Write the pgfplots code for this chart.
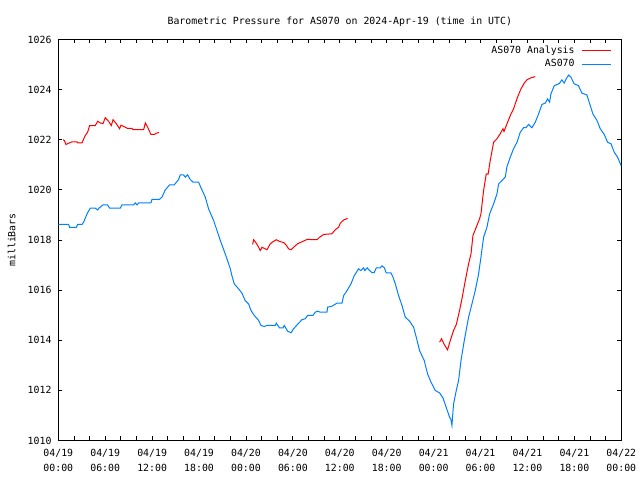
\documentclass[border=0pt]{standalone}
\usepackage{fontspec}
\setmainfont{DejaVu Sans Mono}
\usepackage{pgfplots}
\pgfplotsset{compat=1.18}
\definecolor{anared}{RGB}{255,0,0}
\definecolor{obsblue}{RGB}{0,128,255}
\newcommand{\gfont}{\fontsize{9.9}{14.7}\selectfont}
\begin{document}
\begin{tikzpicture}
\path[use as bounding box] (0,0) rectangle (640bp,480bp);
\begin{axis}[
  at={(58.3bp,39.5bp)}, anchor=south west,
  scale only axis, width=563bp, height=401bp,
  xmin=0, xmax=72, ymin=1010, ymax=1026,
  axis line style={line width=0.8bp},
  tick style={line width=0.8bp, black},
  major tick length=4bp, minor tick length=4bp,
  xtick={0,6,...,72},
  minor x tick num=2,
  xticklabels={{04/19\\00:00},{04/19\\06:00},{04/19\\12:00},{04/19\\18:00},{04/20\\00:00},{04/20\\06:00},{04/20\\12:00},{04/20\\18:00},{04/21\\00:00},{04/21\\06:00},{04/21\\12:00},{04/21\\18:00},{04/22\\00:00}},
  xticklabel style={font=\gfont, inner sep=0pt, yshift=-8.6bp, align=center},
  ytick={1010,1012,...,1026},
  yticklabels={1010,1012,1014,1016,1018,1020,1022,1024,1026},
  yticklabel style={font=\gfont, inner sep=0pt, xshift=-6.6bp},
  title={Barometric Pressure for AS070 on 2024-Apr-19 (time in UTC)},
  title style={font=\gfont, at={(0.5,1)}, anchor=base, yshift=9.5bp, inner sep=0pt},
  ylabel={milliBars},
  every axis y label/.style={at={(rel axis cs:0,0.5)}, anchor=center, rotate=90, yshift=46.6bp, font=\gfont, inner sep=0pt},
  legend plot pos=right,
  legend cell align=right,
  legend image code/.code={\draw[#1] (0bp,0bp) -- (29bp,0bp);},
  legend style={draw=none, fill=none, at={(rel axis cs:1,1)}, anchor=north east,
    xshift=-9.7bp, yshift=-7bp, inner sep=0pt, outer sep=0pt, font=\gfont,
    row sep=4.2bp, column sep=0pt,
    /tikz/every odd column/.append style={column sep=7bp},
    nodes={inner sep=0pt, text height=7bp, text depth=2bp}},
]
\addplot[anared, line width=1bp] coordinates {
(0.6,1022.0) (0.77,1021.97) (0.98,1021.81) (1.32,1021.86) (1.75,1021.92) (2.39,1021.92) (2.5,1021.88) (3.03,1021.88)
(3.45,1022.17) (3.75,1022.30) (4.0,1022.56) (4.73,1022.56) (5.03,1022.74) (5.37,1022.67) (5.71,1022.64)
(6.01,1022.88) (6.44,1022.73) (6.78,1022.57) (7.0,1022.80) (7.42,1022.64) (7.84,1022.44) (8.01,1022.58)
(8.44,1022.52) (8.87,1022.45) (9.42,1022.45) (9.55,1022.40) (10.91,1022.40) (11.13,1022.67) (11.43,1022.50)
(11.85,1022.21) (12.28,1022.21) (12.53,1022.26) (12.87,1022.29)
};
\addlegendentry{AS070 Analysis}
\addplot[obsblue, line width=1bp] coordinates {
(0,1018.62) (1.32,1018.62) (1.45,1018.50) (2.3,1018.50) (2.47,1018.62) (3.03,1018.62) (3.24,1018.71)
(3.67,1019.04) (4.09,1019.27) (4.73,1019.27) (5.03,1019.20) (5.2,1019.27) (5.71,1019.40) (6.3,1019.40)
(6.56,1019.27) (7.93,1019.27) (8.14,1019.40) (9.63,1019.40) (9.85,1019.48) (10.06,1019.40) (10.27,1019.48)
(11.85,1019.48) (11.98,1019.62) (12.92,1019.62) (13.26,1019.71) (13.68,1020.0) (14.23,1020.20) (14.83,1020.20)
(15.38,1020.41) (15.6,1020.60) (16.02,1020.60) (16.24,1020.51) (16.53,1020.60) (16.88,1020.41) (17.22,1020.31)
(17.94,1020.31) (18.25,1020.08) (18.8,1019.71) (19.22,1019.24) (19.86,1018.78) (20.29,1018.38) (20.72,1017.98)
(21.4,1017.4) (22.0,1016.85) (22.2,1016.58) (22.5,1016.25) (23.06,1016.05) (23.49,1015.88) (23.9,1015.58)
(24.34,1015.45) (24.64,1015.19) (25.06,1014.99) (25.62,1014.79) (25.92,1014.59) (26.34,1014.55) (26.69,1014.59)
(27.75,1014.59) (27.88,1014.68) (28.3,1014.49) (28.73,1014.49) (28.9,1014.59) (29.33,1014.36) (29.76,1014.30)
(30.1,1014.46) (30.73,1014.68) (31.16,1014.82) (31.59,1014.86) (31.88,1014.99) (32.57,1014.99) (32.86,1015.12)
(33.16,1015.16) (33.5,1015.12) (34.36,1015.12) (34.44,1015.32) (35.0,1015.36) (35.64,1015.48) (36.28,1015.48)
(36.49,1015.78) (36.92,1015.98) (37.43,1016.25) (37.85,1016.58) (38.4,1016.85) (38.7,1016.78) (39.04,1016.89)
(39.2,1016.78) (39.5,1016.89) (39.75,1016.80) (40.1,1016.70) (40.4,1016.70) (40.67,1016.89) (41.18,1016.89)
(41.39,1016.97) (41.7,1016.89) (41.94,1016.69) (42.54,1016.69) (42.8,1016.52) (43.1,1016.25) (43.52,1015.78)
(43.95,1015.39) (44.37,1014.92) (44.93,1014.76) (45.44,1014.52) (45.78,1014.12) (46.2,1013.59) (46.8,1013.19)
(47.22,1012.66) (47.66,1012.33) (48.2,1012.0) (48.76,1011.90) (49.19,1011.70) (49.6,1011.33) (50.04,1010.93)
(50.2,1010.85) (50.34,1010.60) (50.55,1011.46) (50.9,1012.0) (51.19,1012.39) (51.5,1013.19) (51.92,1013.99)
(52.47,1014.92) (52.9,1015.45) (53.32,1015.98) (53.75,1016.65) (54.05,1017.31) (54.39,1018.11) (54.82,1018.51)
(55.16,1019.04) (55.67,1019.44) (56.1,1019.84) (56.31,1020.24) (56.74,1020.37) (57.16,1020.51) (57.38,1020.93)
(57.8,1021.30) (58.22,1021.64) (58.66,1021.90) (59.08,1022.30) (59.5,1022.48) (59.8,1022.48) (60.14,1022.61)
(60.57,1022.48) (61.0,1022.70) (61.42,1023.03) (61.85,1023.41) (62.28,1023.46) (62.57,1023.63) (62.83,1023.50)
(63.0,1023.83) (63.43,1024.16) (63.77,1024.20) (64.1,1024.25) (64.4,1024.39) (64.7,1024.26) (64.95,1024.43)
(65.26,1024.58) (65.55,1024.50) (65.98,1024.23) (66.52,1024.16) (66.96,1023.86) (67.6,1023.79) (67.82,1023.57)
(68.37,1023.03) (68.89,1022.77) (69.31,1022.44) (69.82,1022.21) (70.25,1021.90) (70.68,1021.84) (71.1,1021.50)
(71.53,1021.30) (72,1020.95)
};
\addlegendentry{AS070}
\addplot[anared, line width=1bp, forget plot] coordinates {
(24.85,1017.82) (24.98,1018.01) (25.32,1017.87) (25.62,1017.71) (25.83,1017.58) (26.05,1017.71) (26.69,1017.61)
(27.11,1017.85) (27.45,1017.93) (27.88,1018.01) (28.3,1017.94) (28.81,1017.90) (29.16,1017.79) (29.45,1017.65)
(29.76,1017.61) (30.1,1017.71) (30.6,1017.85) (31.16,1017.93) (31.88,1018.03) (32.44,1018.01) (33.08,1018.01)
(33.41,1018.11) (33.93,1018.22) (35.0,1018.25) (35.42,1018.41) (35.85,1018.51) (36.06,1018.67) (36.49,1018.80)
(37.0,1018.86)
};
\addplot[anared, line width=1bp, forget plot] coordinates {
(48.76,1013.92) (49.01,1014.06) (49.36,1013.83) (49.78,1013.62) (50.13,1013.99) (50.55,1014.39) (50.9,1014.63)
(51.32,1015.19) (51.62,1015.65) (52.05,1016.38) (52.47,1017.05) (52.78,1017.45) (53.03,1018.18) (53.45,1018.51)
(53.88,1018.85) (54.05,1019.04) (54.39,1019.97) (54.73,1020.64) (54.97,1020.63) (55.24,1021.17) (55.67,1021.90)
(56.1,1022.04) (56.52,1022.24) (56.87,1022.44) (57.0,1022.33) (57.46,1022.70) (57.89,1023.03) (58.22,1023.23)
(58.73,1023.70) (59.17,1024.03) (59.59,1024.26) (59.93,1024.39) (60.44,1024.47) (61.0,1024.52)
};
\end{axis}
\end{tikzpicture}
\end{document}
